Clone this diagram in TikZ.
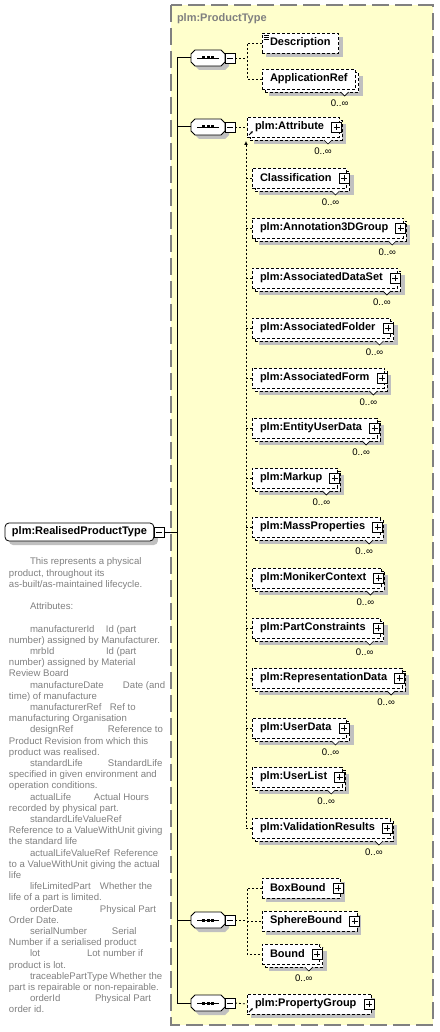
\documentclass[tikz,border=0pt]{standalone}
\usepackage{fontspec}
\setmainfont{Liberation Sans}
\usetikzlibrary{arrows.meta}
\usetikzlibrary{positioning}
\usetikzlibrary{calc}

\definecolor{xsdyellow}{RGB}{255,255,204}
\definecolor{xsdgray}{RGB}{128,128,128}
\definecolor{xsdshadow}{RGB}{192,192,192}

\newcommand{\namefont}{\fontsize{11}{13}\selectfont\bfseries}
\newcommand{\notefont}{\fontsize{9.6}{11.2}\selectfont}
\newcommand{\attrow}[2]{\hspace*{21pt}\makebox[#2pt][l]{#1}}

\tikzstyle{every node}=[inner sep=0pt, outer sep=0pt]
\tikzstyle{container}=[fill=xsdyellow, draw=xsdgray, line width=1.5pt, dash pattern=on 17pt off 6pt]
\tikzstyle{typetitle}=[anchor=west, text=xsdgray, font=\namefont]
\tikzstyle{elem}=[anchor=west, draw=black, fill=white, line width=.8pt, dash pattern=on 3pt off 2pt, minimum height=20pt, inner xsep=8pt, font=\namefont]
\tikzstyle{solo}=[preaction={fill=xsdshadow, transform canvas={shift={(4pt,-4pt)}}}]
\tikzstyle{stacked}=[preaction={fill=xsdshadow, transform canvas={shift={(7pt,-7pt)}}}, preaction={fill=white, draw=black, dash pattern=on 3pt off 2pt, transform canvas={shift={(3pt,-3pt)}}}]
\tikzstyle{rootelem}=[anchor=west, draw=black, fill=white, line width=.8pt, rounded corners=4pt, minimum height=18pt, inner xsep=7pt, font=\namefont]
\tikzstyle{plusbox}=[draw=black, fill=white, solid, line width=.7pt, minimum size=10pt, path picture={
    \draw[line width=.7pt] ([xshift=2pt]path picture bounding box.west) -- ([xshift=-2pt]path picture bounding box.east);
    \draw[line width=.7pt] ([yshift=2pt]path picture bounding box.south) -- ([yshift=-2pt]path picture bounding box.north);}]
\tikzstyle{minusbox}=[draw=black, fill=white, solid, line width=.7pt, minimum size=10pt, path picture={
    \draw[line width=.7pt] ([xshift=2pt]path picture bounding box.west) -- ([xshift=-2pt]path picture bounding box.east);}]
\tikzstyle{seqbox}=[minimum width=34pt, minimum height=16pt]
\tikzstyle{seqshape}=[draw=black, fill=white, line width=.8pt, preaction={fill=xsdshadow, transform canvas={shift={(4pt,-4pt)}}}]
\tikzstyle{trunk}=[draw=black, line width=1pt]
\tikzstyle{link}=[draw=black, line width=.8pt, dash pattern=on 2pt off 2pt]
\tikzstyle{notch}=[draw=black, fill=white, line width=.6pt]
\tikzstyle{occurs}=[font=\notefont]
\tikzstyle{doc}=[anchor=north west, align=left, text=xsdgray, font=\notefont]
\tikzstyle{refarrow}=[draw=black, line width=.8pt, -{Latex[length=2.5pt,width=2.5pt]}]

% expand box and occurrence mark of an element
\newcommand{\expander}[1]{\node[plusbox] (#1-pl) at ([xshift=-2.5pt]#1.east) {};}
\newcommand{\manyof}[1]{%
    \draw[notch] ([shift={(-15,3)}]#1.south east) -- ([shift={(-11,7)}]#1.south east) -- ([shift={(-7,3)}]#1.south east);
    \node[occurs] (#1-oc) at ([shift={(-16,14)}]#1.south east) {0..∞};}

\begin{document}
\begin{tikzpicture}[x=1pt, y=-1pt]
    \pgfsetlinewidth{1pt}
    \useasboundingbox (0,0) rectangle (439,1032);

    % Complex type box
    \draw[container] (171,5) rectangle (433,1025);
    \node[typetitle] (ptype) at (177,19) {plm:ProductType};

    % Root element and its documentation
    \node[rootelem, solo] (root) at (5,532) {plm:RealisedProductType};
    \node[minusbox] (root-mn) at ([xshift=5pt]root.east) {};

    \node[doc] (rootdoc) at (9,558) {%
        \hspace*{21pt}This represents a physical\\
        product, throughout its\\
        as-built/as-maintained lifecycle.\\[11.2pt]
        \hspace*{21pt}Attributes:\\[11.2pt]
        \attrow{manufacturerId}{76}Id (part\\
        number) assigned by Manufacturer.\\
        \attrow{mrbId}{76}Id (part\\
        number) assigned by Material\\
        Review Board\\
        \attrow{manufactureDate}{93}Date (and\\
        time) of manufacture\\
        \attrow{manufacturerRef}{80}Ref to\\
        manufacturing Organisation\\
        \attrow{designRef}{78}Reference to\\
        Product Revision from which this\\
        product was realised.\\
        \attrow{standardLife}{78}StandardLife\\
        specified in given environment and\\
        operation conditions.\\
        \attrow{actualLife}{64}Actual Hours\\
        recorded by physical part.\\
        \attrow{standardLifeValueRef}{0}\\
        Reference to a ValueWithUnit giving\\
        the standard life\\
        \attrow{actualLifeValueRef}{84}Reference\\
        to a ValueWithUnit giving the actual\\
        life\\
        \attrow{lifeLimitedPart}{70}Whether the\\
        life of a part is limited.\\
        \attrow{orderDate}{70}Physical Part\\
        Order Date.\\
        \attrow{serialNumber}{82}Serial\\
        Number if a serialised product\\
        \attrow{lot}{57}Lot number if\\
        product is lot.\\
        \attrow{traceablePartType}{80}Whether the\\
        part is repairable or non-repairable.\\
        \attrow{orderId}{65}Physical Part\\
        order id.};

    % Trunk line
    \coordinate (trunktop) at (177,58);
    \coordinate (trunkbot) at (177,1003);
    \draw[trunk] (trunktop) -- (trunkbot);
    \draw[trunk] (root-mn.east) -- (root-mn.east -| trunktop);

    % Sequence compositors
    \foreach \s/\yy in {A/58, B/127, C/920, D/1003} {
        \node[seqbox] (seq\s) at (208,\yy) {};
        \draw[seqshape] ([xshift=4pt]seq\s.north west) -- ([xshift=-4pt]seq\s.north east) -- ([yshift=-4pt]seq\s.north east)
            -- ([yshift=4pt]seq\s.south east) -- ([xshift=-4pt]seq\s.south east) -- ([xshift=4pt]seq\s.south west)
            -- ([yshift=4pt]seq\s.south west) -- ([yshift=-4pt]seq\s.north west) -- cycle;
        \draw[line width=.8pt] ([xshift=-11pt]seq\s.center) -- ([xshift=11pt]seq\s.center);
        \foreach \dx in {-4.5,0,4.5} {
            \fill ([shift={(\dx-1.5,-1.5)}]seq\s.center) rectangle ([shift={(\dx+1.5,1.5)}]seq\s.center);
        }
        \node[minusbox] (seq\s-mn) at ([xshift=5pt]seq\s.east) {};
        \draw[trunk] (seq\s.west -| trunktop) -- (seq\s.west);
    }

    % Sequence A
    \node[elem, solo] (desc) at (262,43) {Description};
    \foreach \k in {0,2,4} {
        \draw[line width=.6pt] ([shift={(1.5,2+\k)}]desc.north west) -- ([shift={(6.5,2+\k)}]desc.north west);
    }
    \node[elem, stacked] (app) at (262,79) {ApplicationRef};
    \manyof{app}
    \coordinate (busA) at (247,58);
    \draw[link] (seqA-mn.east) -- (busA);
    \draw[link] (desc.west) -- (desc.west -| busA) -- (app.west -| busA) -- (app.west);

    % Sequence B
    \node[elem, stacked] (attr) at (247,127) {plm:Attribute\hspace*{7pt}};
    \expander{attr}
    \manyof{attr}
    \draw[refarrow] ([shift={(2,-2)}]attr.south west) -- ([shift={(6,-6)}]attr.south west);
    \draw[link] (seqB-mn.east) -- (attr.west);

    \coordinate (rail) at (246,141);
    \coordinate (railend) at (246,828);
    \draw[link, {Latex[length=4pt,width=4pt]}-] (rail) -- (railend);

    \foreach \nm/\txt/\yy in {cls/Classification/178, a3d/plm:Annotation3DGroup/228, ads/plm:AssociatedDataSet/278,
        afo/plm:AssociatedFolder/328, afm/plm:AssociatedForm/378, eud/plm:EntityUserData/428, mku/plm:Markup/478,
        mpr/plm:MassProperties/527, mnc/plm:MonikerContext/578, pcn/plm:PartConstraints/628,
        rpd/plm:RepresentationData/678, usd/plm:UserData/728, usl/plm:UserList/777, vrs/plm:ValidationResults/828} {
        \node[elem, stacked] (\nm) at (252,\yy) {\txt\hspace*{7pt}};
        \expander{\nm}
        \manyof{\nm}
        \draw[link] (\nm.west -| rail) -- (\nm.west);
    }

    % Sequence C
    \node[elem, solo] (boxb) at (262,888) {BoxBound\hspace*{7pt}};
    \expander{boxb}
    \node[elem, solo] (sphb) at (262,921) {SphereBound\hspace*{7pt}};
    \expander{sphb}
    \node[elem, stacked] (bnd) at (262,954) {Bound\hspace*{7pt}};
    \expander{bnd}
    \manyof{bnd}
    \coordinate (busC) at (247,920);
    \draw[link] (seqC-mn.east) -- (busC);
    \draw[link] (boxb.west) -- (boxb.west -| busC) -- (bnd.west -| busC) -- (bnd.west);
    \draw[link] (sphb.west -| busC) -- (sphb.west);

    % Sequence D
    \node[elem, solo] (pgrp) at (247,1004) {plm:PropertyGroup\hspace*{7pt}};
    \expander{pgrp}
    \draw[refarrow] ([shift={(2,-2)}]pgrp.south west) -- ([shift={(6,-6)}]pgrp.south west);
    \draw[link] (seqD-mn.east) -- (pgrp.west);

\end{tikzpicture}
\end{document}
